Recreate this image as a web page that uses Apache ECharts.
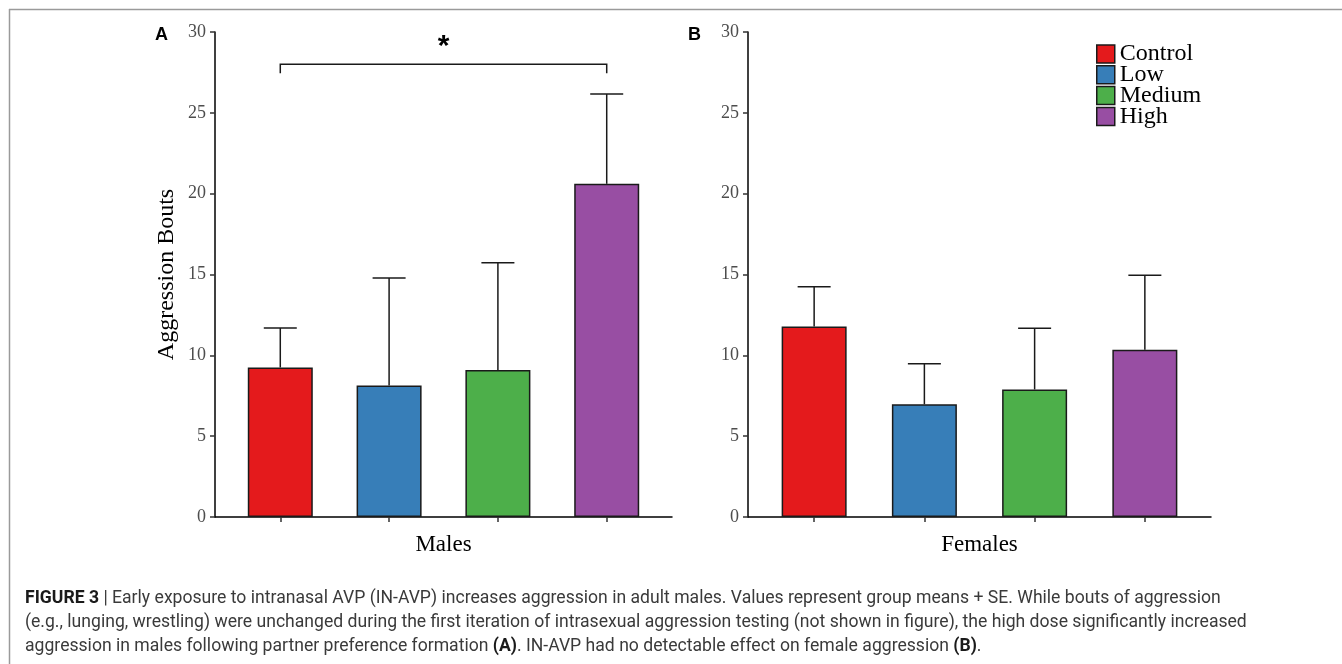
<!DOCTYPE html>
<html><head><meta charset="utf-8">
<script src="https://cdn.jsdelivr.net/npm/echarts@6/dist/echarts.min.js"></script>
<style>html,body{margin:0;padding:0;background:#fff}#c{width:1342px;height:664px}</style>
</head><body><div id="c"></div>
<script>
const groups = ['Control', 'Low', 'Medium', 'High'];
const groupColors = ['#E41A1C', '#377EB8', '#4DAF4A', '#984EA3'];
const panelNames = ['Males', 'Females'];
const malesMean = [9.25, 8.14, 9.09, 20.61];
const malesUpper = [11.69, 14.78, 15.73, 26.16];
const femalesMean = [11.79, 6.97, 7.89, 10.35];
const femalesUpper = [14.24, 9.48, 11.67, 14.95];
const yTicks = [0, 5, 10, 15, 20, 25, 30];
const bracket = [1, 4, 28.0, 27.45]; // from group, to group, top, end
const starValue = 29.1;
const captionLines = [
  [{b: 'FIGURE 3'}, {t: ' | Early exposure to intranasal AVP (IN-AVP) increases aggression in adult males. Values represent group means + SE. While bouts of aggression'}],
  [{t: '(e.g., lunging, wrestling) were unchanged during the first iteration of intrasexual aggression testing (not shown in figure), the high dose significantly increased'}],
  [{t: 'aggression in males following partner preference formation '}, {b: '(A)'}, {t: '. IN-AVP had no detectable effect on female aggression '}, {b: '(B)'}, {t: '.'}]
];

const serif = 'Liberation Serif';
const chart = echarts.init(document.getElementById('c'), null, {renderer: 'canvas'});

function xAxisFor(i, grid) {
  return {
    type: 'value', gridIndex: grid, min: 0.4, max: 4.6,
    name: panelNames[i], nameLocation: 'middle', nameGap: 16,
    nameTextStyle: {fontFamily: serif, fontSize: 23, color: '#000'},
    axisLine: {show: true, onZero: false, lineStyle: {color: '#000', width: 1.5}},
    axisTick: {show: true, length: 5, lineStyle: {color: '#333', width: 1.5}, customValues: [1, 2, 3, 4]},
    axisLabel: {show: false},
    splitLine: {show: false}
  };
}
function yAxisFor(grid, withName) {
  const a = {
    type: 'value', gridIndex: grid, min: 0, max: 30, interval: 5,
    axisLine: {show: true, lineStyle: {color: '#000', width: 1.5}},
    axisTick: {show: true, length: 5, lineStyle: {color: '#333', width: 1.5}},
    axisLabel: {fontFamily: serif, fontSize: 18, color: '#4d4d4d', margin: 9},
    splitLine: {show: false}
  };
  if (withName) {
    a.name = 'Aggression Bouts';
    a.nameLocation = 'middle';
    a.nameGap = 36;
    a.nameTextStyle = {fontFamily: serif, fontSize: 24, color: '#000'};
  }
  return a;
}

const series = [];
[[malesMean, malesUpper], [femalesMean, femalesUpper]].forEach(function (pair, p) {
  groups.forEach(function (g, i) {
    series.push({
      type: 'bar', name: g, xAxisIndex: p, yAxisIndex: p,
      data: [[i + 1, pair[0][i]]], barWidth: 65, barGap: '-100%',
      itemStyle: {color: groupColors[i], borderColor: '#1a1a1a', borderWidth: 1.5},
      z: 2
    });
  });
  series.push({
    type: 'custom', name: 'err' + p, xAxisIndex: p, yAxisIndex: p, z: 3,
    encode: {x: 0, y: [1, 2]},
    data: groups.map(function (g, i) { return [i + 1, pair[0][i], pair[1][i]]; }),
    renderItem: function (params, api) {
      const x = api.value(0);
      const p0 = api.coord([x, api.value(1)]);
      const p1 = api.coord([x, api.value(2)]);
      const st = {stroke: '#1a1a1a', lineWidth: 1.5};
      return {type: 'group', children: [
        {type: 'line', shape: {x1: p0[0], y1: p0[1], x2: p1[0], y2: p1[1]}, style: st},
        {type: 'line', shape: {x1: p1[0] - 16.5, y1: p1[1], x2: p1[0] + 16.5, y2: p1[1]}, style: st}
      ]};
    }
  });
});
series.push({
  type: 'custom', name: 'bracket', xAxisIndex: 0, yAxisIndex: 0, z: 3,
  encode: {x: [0, 1], y: [2, 3]},
  data: [bracket.concat([starValue])],
  renderItem: function (params, api) {
    const a = api.coord([api.value(0), api.value(3)]);
    const b = api.coord([api.value(0), api.value(2)]);
    const c = api.coord([api.value(1), api.value(2)]);
    const d = api.coord([api.value(1), api.value(3)]);
    const s = api.coord([(api.value(0) + api.value(1)) / 2, api.value(4)]);
    return {type: 'group', children: [
      {type: 'polyline', shape: {points: [a, b, c, d]}, style: {stroke: '#1a1a1a', lineWidth: 1.5, fill: null}},
      {type: 'text', x: s[0], y: s[1], style: {text: '*', font: 'bold 30px "Liberation Sans"', fill: '#000', align: 'center', verticalAlign: 'middle'}}
    ]};
  }
});

const titles = [
  {text: 'A', left: 155, top: 26, padding: 0, textStyle: {fontFamily: 'Liberation Sans', fontWeight: 'bold', fontSize: 18, color: '#000'}},
  {text: 'B', left: 688, top: 26, padding: 0, textStyle: {fontFamily: 'Liberation Sans', fontWeight: 'bold', fontSize: 18, color: '#000'}}
];
captionLines.forEach(function (line, k) {
  const txt = line.map(function (s) { return s.b ? '{b|' + s.b + '}' : '{t|' + s.t + '}'; }).join('');
  titles.push({
    text: txt, left: 25, top: 590 + k * 24, padding: 0,
    textStyle: {
      fontWeight: 'normal',
      rich: {
        t: {fontFamily: 'Roboto', fontSize: 17.6, fontWeight: 'normal', color: '#3a3a3a'},
        b: {fontFamily: 'Roboto', fontSize: 17.6, fontWeight: 'bold', color: '#1a1a1a'}
      }
    }
  });
});

chart.setOption({
  animation: false,
  title: titles,
  grid: [
    {left: 215, right: 670, top: 32, bottom: 147, containLabel: false},
    {left: 748, right: 131, top: 32, bottom: 147, containLabel: false}
  ],
  xAxis: [xAxisFor(0, 0), xAxisFor(1, 1)],
  yAxis: [yAxisFor(0, true), yAxisFor(1, false)],
  legend: {
    data: groups, orient: 'vertical', left: 1096, top: 42, padding: 0,
    itemWidth: 18, itemHeight: 18, itemGap: -3.2, icon: 'rect',
    textStyle: {fontFamily: serif, fontSize: 24, color: '#000'},
    itemStyle: {borderColor: '#1a1a1a', borderWidth: 1.5}
  },
  graphic: [
    {type: 'line', shape: {x1: 9, y1: 9.5, x2: 1342, y2: 9.5}, style: {stroke: '#9a9a9a', lineWidth: 1.5}, silent: true},
    {type: 'line', shape: {x1: 9.5, y1: 9, x2: 9.5, y2: 664}, style: {stroke: '#9a9a9a', lineWidth: 1.5}, silent: true}
  ],
  series: series
});
</script></body></html>
